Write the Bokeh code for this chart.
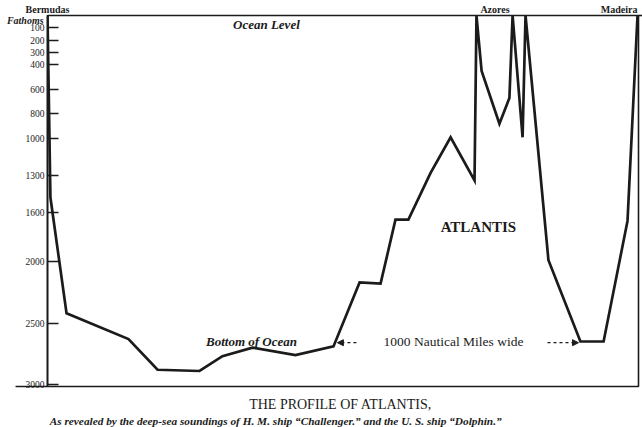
from bokeh.plotting import figure
from bokeh.models import Range1d, FixedTicker, Label, Arrow, NormalHead
from bokeh.core.properties import value
from bokeh.embed import file_html
from bokeh.resources import INLINE

# Distance east of the Bermudas (nautical miles) and sounding depth (fathoms)
miles = [0, 12, 78, 332, 451, 623, 717, 840, 1016, 1172, 1279, 1365, 1426, 1479,
         1570, 1652, 1750, 1758, 1779, 1852, 1893, 1906, 1947, 1959, 2053, 2184,
         2279, 2377, 2418]
fathoms = [0, 1480, 2420, 2630, 2880, 2890, 2770, 2700, 2760, 2690, 2170, 2180,
           1660, 1660, 1280, 990, 1340, 0, 450, 880, 670, 0, 990, 0, 1990, 2650,
           2650, 1670, 0]
depth_ticks = [100, 200, 300, 400, 600, 800, 1000, 1300, 1600, 2000, 2500, 3000]
places = ["Bermudas", "Azores", "Madeira"]
place_miles = [0, 1834, 2418]

SERIF = "Liberation Serif"
INK = "#1b1b1b"

p = figure(width=642, height=427, output_backend="svg", toolbar_location=None,
           x_range=Range1d(0, 2422), y_range=Range1d(3016, 0),
           x_axis_location=None,
           min_border_left=47, min_border_right=4, min_border_top=15,
           min_border_bottom=41)
p.grid.grid_line_color = None
p.background_fill_color = "white"
p.border_fill_color = "white"
p.outline_line_color = INK
p.outline_line_width = 1.6
p.outline_line_alpha = 1.0

ax = p.yaxis[0]
ax.ticker = FixedTicker(ticks=depth_ticks)
ax.major_tick_in = 11
ax.major_tick_out = 0
ax.minor_tick_line_color = None
ax.major_tick_line_width = 1.5
ax.major_tick_line_color = INK
ax.axis_line_width = 1.6
ax.axis_line_color = INK
ax.major_label_standoff = 3
ax.major_label_text_font = SERIF
ax.major_label_text_font_size = "9.5px"
ax.major_label_text_font_style = "normal"
ax.major_label_text_color = INK

# ocean level and bottom lines running past the frame
p.line([-131, 0], [3016, 3016], line_color=INK, line_width=1.6, level="overlay")
p.line([2422, 2440], [0, 0], line_color=INK, line_width=1.6, level="overlay")

# the profile
p.line(miles, fathoms, line_color=INK, line_width=2.7, line_join="miter")


def outside(text, x, y, size, style="normal", align="center", baseline="middle"):
    p.text(x=[x], y=[y], text=[text], text_font=value(SERIF), text_font_size=size,
           text_font_style=style, text_color=INK, text_align=align,
           text_baseline=baseline, level="overlay")


def lab(text, x, y, size, style="normal", align="center", baseline="middle"):
    p.add_layout(Label(x=x, y=y, text=text, text_font=SERIF, text_font_size=size,
                       text_font_style=style, text_color=INK, text_align=align,
                       text_baseline=baseline))


# place names above ocean level
outside(places[0], place_miles[0], -52, "10px", "bold", "center")
outside(places[1], place_miles[1], -52, "10px", "bold", "center")
outside(places[2], place_miles[2], -52, "10px", "bold", "right")
outside("Fathoms", -16, 41, "10px", "bold italic", "right")

lab("Ocean Level", 897, 73, "13px", "bold italic")
lab("Bottom of Ocean", 836, 2650, "13px", "bold italic")
lab("ATLANTIS", 1766, 1720, "15px", "bold")
lab("1000 Nautical Miles wide", 1664, 2650, "13.5px")

for x0, x1 in [(1266, 1188), (2049, 2176)]:
    p.add_layout(Arrow(x_start=x0, y_start=2660, x_end=x1, y_end=2660,
                       line_color=INK, line_width=1.3, line_dash="3 3",
                       end=NormalHead(size=6, fill_color=INK, line_color=INK)))

outside("THE PROFILE OF ATLANTIS,", 1201, 3163, "14px")
outside("As revealed by the deep-sea soundings of H. M. ship \u201cChallenger.\u201d and the U. S. ship \u201cDolphin.\u201d",
        935, 3293, "11.3px", "bold italic")

open("out.html", "w").write(file_html(p, INLINE))
